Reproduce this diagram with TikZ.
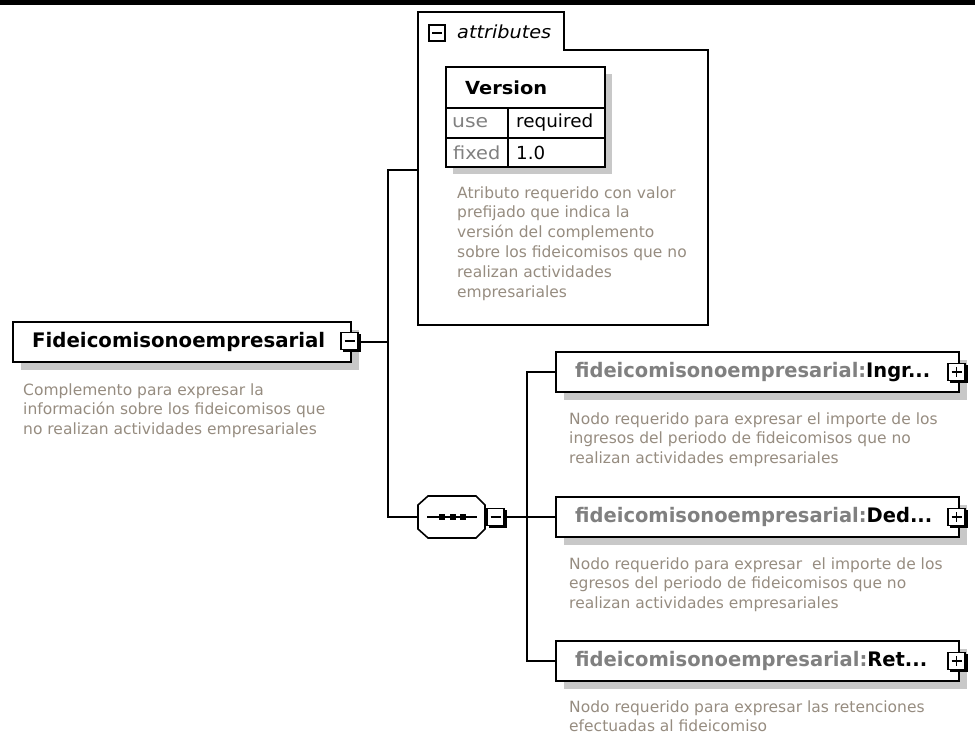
\documentclass[tikz,border=0pt]{standalone}
\usepackage{fontspec}
\setmainfont{DejaVu Sans}
\usepackage{graphicx}
\usetikzlibrary{calc}
\definecolor{shadowc}{RGB}{200,200,200}
\definecolor{descc}{RGB}{150,140,128}
\definecolor{prefc}{RGB}{128,128,128}
\newcommand\descfont{\fontsize{15.5}{19.8}\selectfont}
\newcommand\ttlfont{\fontsize{20}{24}\selectfont\bfseries}
\newcommand\tabfont{\fontsize{18}{22}\selectfont}
\tikzset{
  conn/.style={line width=1.6pt, line cap=rect},
  elembox/.style={draw=black, line width=1.8pt, fill=white, inner sep=0pt},
  shade/.style={fill=shadowc},
  iconbox/.style={draw=black, line width=1.3pt, fill=white, minimum size=17pt, inner sep=0pt},
  desc/.style={font=\descfont, text=descc, align=left, anchor=north west, inner sep=0pt},
  lbl/.style={inner sep=0pt, anchor=west},
}
\begin{document}
\begin{tikzpicture}[x=1pt,y=-1pt]
\useasboundingbox (0,0) rectangle (975,735);
\fill[black] (0,0) rectangle (975,5);

% ---------- root element ----------
\fill[shade] (21,330) rectangle (359,370);
\node[elembox, minimum width=338pt, minimum height=40pt] (root) at (182,342) {};
\node[lbl] (rootT) at (32,342) {\ttlfont\resizebox{293pt}{\height}{Fideicomisonoempresarial}};
\fill[black] (343,334) rectangle (361,352);
\node[iconbox] (rootM) at (349.5,341) {};
\draw[line width=1.3pt] ($(rootM.center)+(-5,0)$) -- ($(rootM.center)+(5,0)$);
\node[desc] (rootD) at (23,381) {\strut Complemento para expresar la\\información sobre los fideicomisos que\\no realizan actividades empresariales};

% ---------- attributes ----------
\node[minimum width=290pt, minimum height=313pt, inner sep=0pt] (attr) at (563,168.5) {};
\draw[line width=1.6pt] (418,325) -- (418,12) -- (564,12) -- (564,50) -- (708,50) -- (708,325) -- cycle;
\node[draw=black, line width=2pt, fill=white, minimum size=16pt, inner sep=0pt] (attrM) at (437,33) {};
\draw[line width=1.6pt] ($(attrM.center)+(-5,0)$) -- ($(attrM.center)+(5,0)$);
\node[lbl] (attrT) at (457,32) {\tabfont\itshape\resizebox{94pt}{\height}{attributes}};

\fill[shade] (453,74) rectangle (612,174);
\node[draw=black, line width=1.6pt, fill=white, minimum width=159pt, minimum height=100pt, inner sep=0pt] (ver) at (525.5,117) {};
\draw[line width=1.2pt] (446,108) -- (605,108);
\draw[line width=1.2pt] (446,138) -- (605,138);
\draw[line width=1.2pt] (508,108) -- (508,167);
\node[lbl] (verT) at (465,88) {\tabfont\bfseries\resizebox{82pt}{\height}{Version}};
\node[lbl, text=prefc] (useK) at (452,123) {\tabfont\resizebox{36pt}{\height}{use}};
\node[lbl] (useV) at (516,123) {\tabfont\resizebox{77pt}{\height}{required}};
\node[lbl, text=prefc] (fixK) at (453,153) {\tabfont\resizebox{47pt}{\height}{fixed}};
\node[lbl] (fixV) at (516,153) {\tabfont\resizebox{29pt}{\height}{1.0}};
\node[desc] (attrD) at (457,184) {\strut Atributo requerido con valor\\prefijado que indica la\\versión del complemento\\sobre los fideicomisos que no\\realizan actividades\\empresariales};

% ---------- sequence ----------
\node[minimum width=67pt, minimum height=42pt, inner sep=0pt] (seq) at (451.5,517) {};
\draw[line width=1.6pt, fill=white] (428,496) -- (476,496) -- (485,505) -- (485,529) -- (476,538) -- (428,538) -- (418,529) -- (418,505) -- cycle;
\draw[line width=1.3pt] (427,517) -- (477,517);
\foreach \i/\xx in {1/442,2/452.5,3/463}{
  \fill[black] (\xx-3,514) rectangle (\xx+3,520);
}
\fill[black] (489,510) rectangle (507,528);
\node[iconbox] (seqM) at (495.5,517) {};
\draw[line width=1.3pt] ($(seqM.center)+(-5,0)$) -- ($(seqM.center)+(5,0)$);

% ---------- children ----------
\foreach \nm/\yy in {ingr/372,ded/517,ret/661}{
  \fill[shade] (564,\yy-12) rectangle (967,\yy+28);
  \node[elembox, minimum width=403pt, minimum height=40pt] (\nm) at (757.5,\yy) {};
  \fill[black] (950,\yy-7) rectangle (968,\yy+11);
  \node[iconbox] (\nm P) at (956.5,\yy) {};
  \draw[line width=1.3pt] ($(\nm P.center)+(-5,0)$) -- ($(\nm P.center)+(5,0)$);
  \draw[line width=1.3pt] ($(\nm P.center)+(0,-5)$) -- ($(\nm P.center)+(0,5)$);
}
\node[lbl] (ingrT) at (575,372) {\ttlfont\resizebox{355pt}{\height}{\textcolor{prefc}{fideicomisonoempresarial:}Ingr...}};
\node[lbl] (dedT) at (575,517) {\ttlfont\resizebox{357pt}{\height}{\textcolor{prefc}{fideicomisonoempresarial:}Ded...}};
\node[lbl] (retT) at (575,661) {\ttlfont\resizebox{352pt}{\height}{\textcolor{prefc}{fideicomisonoempresarial:}Ret...}};

\node[desc] (ingrD) at (569,410) {\strut Nodo requerido para expresar el importe de los\\ingresos del periodo de fideicomisos que no\\realizan actividades empresariales};
\node[desc] (dedD) at (569,555) {\strut Nodo requerido para expresar \ el importe de los\\egresos del periodo de fideicomisos que no\\realizan actividades empresariales};
\node[desc] (retD) at (569,698) {\strut Nodo requerido para expresar las retenciones\\efectuadas al fideicomiso};

% ---------- connectors ----------
\coordinate (sp1t) at (388,170);
\coordinate (sp1b) at (388,517);
\coordinate (sp2) at (527,372);
\draw[conn] (rootM.east |- root.east) -- (root.east -| sp1t);
\draw[conn] (attr.west |- sp1t) -- (sp1t) -- (sp1b) -- (seq.west);
\draw[conn] (seqM.east) -- (ded.west);
\draw[conn] (ingr.west) -- (ingr.west -| sp2) -- (ret.west -| sp2) -- (ret.west);
\end{tikzpicture}
\end{document}
